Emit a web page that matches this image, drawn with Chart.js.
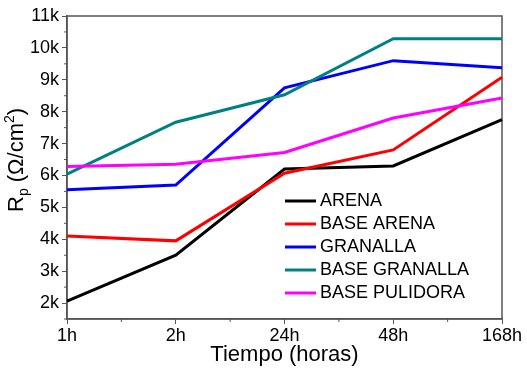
<!DOCTYPE html>
<html>
<head>
<meta charset="utf-8">
<script src="https://cdn.jsdelivr.net/npm/chart.js@4/dist/chart.umd.min.js"></script>
<style>
  html, body { margin: 0; padding: 0; background: #fff; }
  #wrap { width: 527px; height: 373px; }
</style>
</head>
<body>
<div id="wrap"><canvas id="rp"></canvas></div>
<script>
let hours = ['1h', '2h', '24h', '48h', '168h'];

let arena        = [2060, 3500, 6200, 6300, 7750];
let baseArena    = [4100, 3950, 6070, 6800, 9080];
let granalla     = [5550, 5700, 8750, 9600, 9380];
let baseGranalla = [6040, 7670, 8530, 10290, 10290];
let basePulidora = [6280, 6350, 6720, 7800, 8430];

let seriesNames = ['ARENA', 'BASE ARENA', 'GRANALLA', 'BASE GRANALLA', 'BASE PULIDORA'];
let seriesColors = ['#000000', '#ff0000', '#0000ff', '#008080', '#ff00ff'];

let yTicks = [2000, 3000, 4000, 5000, 6000, 7000, 8000, 9000, 10000, 11000];

const FONT = "'Liberation Sans', Arial, sans-serif";
const AXIS = '#555555';

let allSeries = [arena, baseArena, granalla, baseGranalla, basePulidora];

const datasets = allSeries.map((vals, i) => ({
    label: seriesNames[i],
    data: vals,
    borderColor: seriesColors[i],
    backgroundColor: seriesColors[i],
    borderWidth: 3,
    pointRadius: 0,
    tension: 0,
    order: 5 - i
}));

// frame, minor ticks, legend and y title
const extras = {
    id: 'extras',
    beforeDatasetsDraw(chart) {
        const {ctx, chartArea: a, scales: {x, y}} = chart;
        ctx.save();
        ctx.strokeStyle = AXIS;
        ctx.lineWidth = 1.5;
        ctx.strokeRect(a.left, a.top, a.right - a.left, a.bottom - a.top);
        // minor ticks
        ctx.lineWidth = 1;
        ctx.beginPath();
        for (let i = 0; i < hours.length - 1; i++) {
            const px = (x.getPixelForValue(i) + x.getPixelForValue(i + 1)) / 2;
            ctx.moveTo(px, a.bottom);
            ctx.lineTo(px, a.bottom + 3);
        }
        for (let v = 1500; v < 11000; v += 1000) {
            const py = y.getPixelForValue(v);
            ctx.moveTo(a.left, py);
            ctx.lineTo(a.left - 3, py);
        }
        ctx.stroke();
        ctx.restore();
    },
    afterDraw(chart) {
        const {ctx} = chart;
        ctx.save();
        // legend
        ctx.font = '18px ' + FONT;
        ctx.textAlign = 'left';
        ctx.textBaseline = 'alphabetic';
        chart.data.datasets.forEach((ds, i) => {
            const ly = 201 + i * 23;
            ctx.strokeStyle = ds.borderColor;
            ctx.lineWidth = 3;
            ctx.beginPath();
            ctx.moveTo(285, ly);
            ctx.lineTo(316, ly);
            ctx.stroke();
            ctx.fillStyle = '#000';
            ctx.fillText(ds.label, 320, ly + 5);
        });
        // y title: R_p (Ω/cm^2)
        ctx.translate(23, 212);
        ctx.rotate(-Math.PI / 2);
        ctx.fillStyle = '#000';
        let cx = 0;
        ctx.font = '22px ' + FONT;
        ctx.fillText('R', cx, 0);
        cx += ctx.measureText('R').width;
        ctx.font = '14px ' + FONT;
        ctx.fillText('p', cx, 5);
        cx += ctx.measureText('p').width;
        ctx.font = '22px ' + FONT;
        ctx.fillText(' (\u03A9/cm', cx, 0);
        cx += ctx.measureText(' (\u03A9/cm').width;
        ctx.font = '14px ' + FONT;
        ctx.fillText('2', cx, -9);
        cx += ctx.measureText('2').width;
        ctx.font = '22px ' + FONT;
        ctx.fillText(')', cx, 0);
        ctx.restore();
    }
};

const config = {
    type: 'line',
    data: {
        labels: hours,
        datasets: datasets
    },
    options: {
        responsive: true,
        maintainAspectRatio: false,
        animation: false,
        layout: {
            padding: { left: 0, right: 25, top: 16, bottom: 0 }
        },
        plugins: {
            legend: { display: false },
            tooltip: { enabled: false }
        },
        scales: {
            x: {
                offset: false,
                afterFit(scale) { scale.height = 54; },
                grid: { drawOnChartArea: false, drawTicks: true, tickLength: 5, color: AXIS, tickWidth: 1 },
                border: { display: true, color: AXIS, width: 1.5 },
                ticks: { color: '#000', font: { family: FONT, size: 18 }, padding: 1, maxRotation: 0 },
                title: {
                    display: true,
                    text: 'Tiempo (horas)',
                    color: '#000',
                    font: { family: FONT, size: 22 },
                    padding: { top: 0, bottom: 5 }
                }
            },
            y: {
                min: 1500,
                max: 11000,
                afterFit(scale) { scale.width = 67; },
                afterBuildTicks(scale) { scale.ticks = yTicks.map(v => ({ value: v })); },
                grid: { drawOnChartArea: false, drawTicks: true, tickLength: 5, color: AXIS, tickWidth: 1 },
                border: { display: true, color: AXIS, width: 1.5 },
                ticks: {
                    color: '#000',
                    font: { family: FONT, size: 18 },
                    padding: 3,
                    callback: v => (v / 1000) + 'k'
                }
            }
        }
    },
    plugins: [extras]
};

const chart = new Chart(document.getElementById('rp'), config);
</script>
</body>
</html>
